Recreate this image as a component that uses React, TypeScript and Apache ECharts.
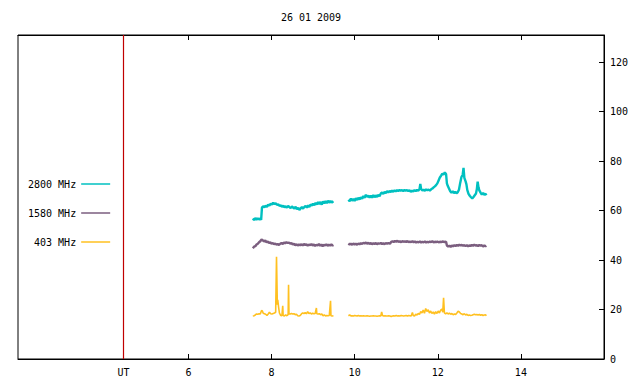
import React, { useEffect, useRef } from "react";
import * as echarts from "echarts";

const TITLE = "26 01 2009";
const X_MIN = 1.9;
const X_MAX = 16.0;
const Y_MIN = 0;
const Y_MAX = 131;
const UT_MARK = 4.44;
const X_TICKS = [6, 8, 10, 12, 14];
const Y_TICKS = [0, 20, 40, 60, 80, 100, 120];
const SERIES_NAMES = ["2800 MHz", "1580 MHz", "403 MHz"];
const SERIES_COLORS = ["#00c0c0", "#7b5e7f", "#ffc020"];
const SERIES_WIDTHS = [2.4, 2.4, 1.6];

const s2800a = [[7.55,56.8],[7.58,56.2],[7.61,57.0],[7.64,56.3],[7.67,56.9],[7.70,56.4],[7.73,56.8],[7.75,56.2],[7.77,61.2],[7.80,61.8],[7.83,61.3],[7.86,62.0],[7.89,61.5],[7.92,62.4],[7.95,62.0],[7.98,62.8],[8.01,62.4],[8.04,63.2],[8.07,62.6],[8.10,63.0],[8.13,62.3],[8.16,62.6],[8.19,61.9],[8.22,62.2],[8.25,61.5],[8.28,62.0],[8.31,61.3],[8.34,61.8],[8.37,61.2],[8.40,61.9],[8.43,61.4],[8.46,61.0],[8.49,61.7],[8.52,61.2],[8.55,60.9],[8.58,61.5],[8.61,60.6],[8.64,61.1],[8.67,60.3],[8.70,60.9],[8.73,61.4],[8.76,60.8],[8.79,61.5],[8.82,61.9],[8.85,61.2],[8.88,62.1],[8.91,61.5],[8.94,62.5],[8.97,62.0],[9.00,62.8],[9.03,62.2],[9.06,63.1],[9.09,62.5],[9.12,63.4],[9.15,62.6],[9.18,63.5],[9.21,62.4],[9.24,63.7],[9.27,62.9],[9.30,63.8],[9.33,63.0],[9.36,64.0],[9.39,63.2],[9.42,63.9],[9.45,63.3],[9.49,63.8]];
const s2800b = [[9.85,64.4],[9.88,63.8],[9.91,64.9],[9.94,64.0],[9.97,64.7],[10.00,63.9],[10.03,65.0],[10.06,64.3],[10.09,65.2],[10.12,64.5],[10.15,65.4],[10.18,64.8],[10.21,65.9],[10.24,65.2],[10.27,66.4],[10.30,65.6],[10.33,66.0],[10.36,65.3],[10.39,66.1],[10.42,65.2],[10.45,66.3],[10.48,65.4],[10.51,66.2],[10.54,65.5],[10.57,66.4],[10.60,65.8],[10.63,66.9],[10.66,67.3],[10.69,66.8],[10.72,67.5],[10.75,67.1],[10.78,67.8],[10.81,67.4],[10.84,67.9],[10.87,67.5],[10.90,68.1],[10.93,67.6],[10.96,68.2],[10.99,67.8],[11.02,68.3],[11.05,67.9],[11.08,68.4],[11.11,68.0],[11.14,68.3],[11.17,67.9],[11.20,68.4],[11.23,68.0],[11.26,68.3],[11.29,67.9],[11.32,68.2],[11.35,67.6],[11.38,68.1],[11.41,67.7],[11.44,68.3],[11.47,67.9],[11.50,68.4],[11.53,68.0],[11.56,68.6],[11.58,70.8],[11.60,68.7],[11.63,68.1],[11.66,68.5],[11.69,68.0],[11.72,68.6],[11.75,68.2],[11.78,68.5],[11.81,68.1],[11.84,68.6],[11.87,68.9],[11.90,69.4],[11.93,69.8],[11.96,70.3],[11.99,71.0],[12.02,72.2],[12.05,73.4],[12.08,74.1],[12.11,74.9],[12.14,74.6],[12.17,75.4],[12.20,74.8],[12.22,71.0],[12.24,70.0],[12.27,68.9],[12.30,67.8],[12.33,67.2],[12.36,67.8],[12.39,67.1],[12.42,67.6],[12.45,67.0],[12.48,67.4],[12.51,68.4],[12.54,71.2],[12.57,73.6],[12.60,74.5],[12.62,77.3],[12.64,73.2],[12.67,71.8],[12.69,70.6],[12.71,68.4],[12.74,66.8],[12.77,66.0],[12.80,65.4],[12.83,64.9],[12.86,65.5],[12.89,66.2],[12.92,66.9],[12.94,68.6],[12.96,71.7],[12.98,69.4],[13.00,68.2],[13.03,67.3],[13.06,66.5],[13.09,67.1],[13.12,66.4],[13.15,66.8],[13.17,66.2]];

const s1580a = [[7.55,44.8],[7.58,45.4],[7.61,45.6],[7.64,46.3],[7.67,46.6],[7.70,47.2],[7.73,47.6],[7.76,48.3],[7.79,48.0],[7.82,47.5],[7.85,47.9],[7.88,47.2],[7.91,47.5],[7.94,46.9],[7.97,47.2],[8.00,46.6],[8.03,46.9],[8.06,46.4],[8.09,46.7],[8.12,46.2],[8.15,46.5],[8.18,46.1],[8.21,46.6],[8.24,46.9],[8.27,46.5],[8.30,47.1],[8.33,46.8],[8.36,47.2],[8.39,46.9],[8.42,47.1],[8.45,46.6],[8.48,46.9],[8.51,46.3],[8.54,46.6],[8.57,46.0],[8.60,46.4],[8.63,45.9],[8.66,46.3],[8.69,46.0],[8.72,46.4],[8.75,45.9],[8.78,46.5],[8.81,46.1],[8.84,46.4],[8.87,45.8],[8.90,46.3],[8.93,46.0],[8.96,46.5],[8.99,45.9],[9.02,46.3],[9.05,45.7],[9.08,46.2],[9.11,45.9],[9.14,46.5],[9.17,45.8],[9.20,46.3],[9.23,45.6],[9.26,46.2],[9.29,45.9],[9.32,46.4],[9.35,45.8],[9.38,46.2],[9.41,45.9],[9.44,46.3],[9.47,45.9],[9.49,46.1]];
const s1580b = [[9.85,46.7],[9.88,46.3],[9.91,46.6],[9.94,46.2],[9.97,46.7],[10.00,46.3],[10.03,46.6],[10.06,46.2],[10.09,46.7],[10.12,46.4],[10.15,46.8],[10.18,46.5],[10.21,47.0],[10.24,46.7],[10.27,47.1],[10.30,46.6],[10.33,47.0],[10.36,46.5],[10.39,46.9],[10.42,46.4],[10.45,46.8],[10.48,46.5],[10.51,46.9],[10.54,46.4],[10.57,46.8],[10.60,46.6],[10.63,46.9],[10.66,46.5],[10.69,46.8],[10.72,46.4],[10.75,46.9],[10.78,46.6],[10.81,46.9],[10.85,46.6],[10.88,47.4],[10.91,47.6],[10.94,47.3],[10.97,47.7],[11.00,47.4],[11.03,47.8],[11.06,47.3],[11.09,47.6],[11.12,47.2],[11.15,47.7],[11.18,47.4],[11.21,47.6],[11.24,47.3],[11.27,47.7],[11.30,47.2],[11.33,47.5],[11.36,47.3],[11.39,47.6],[11.42,47.2],[11.45,47.5],[11.48,47.1],[11.51,47.4],[11.54,47.2],[11.57,47.5],[11.60,47.1],[11.63,47.4],[11.66,47.2],[11.69,47.5],[11.72,47.1],[11.75,47.4],[11.78,47.2],[11.81,47.5],[11.84,47.3],[11.87,47.6],[11.90,47.2],[11.93,47.4],[11.96,47.3],[11.99,47.5],[12.02,47.2],[12.05,47.4],[12.08,47.3],[12.11,47.5],[12.14,47.4],[12.17,47.3],[12.20,47.4],[12.22,45.9],[12.25,45.5],[12.28,45.8],[12.31,45.3],[12.34,45.9],[12.37,45.6],[12.40,46.0],[12.43,45.7],[12.46,46.1],[12.49,45.8],[12.52,46.2],[12.55,45.9],[12.58,46.1],[12.61,45.8],[12.64,46.0],[12.67,45.7],[12.70,46.0],[12.73,45.6],[12.76,45.9],[12.79,45.7],[12.82,46.1],[12.85,45.8],[12.88,46.2],[12.91,45.9],[12.94,46.0],[12.97,45.7],[13.00,46.1],[13.03,45.8],[13.06,46.0],[13.09,45.5],[13.12,45.9],[13.15,45.6],[13.17,45.8]];

const s403a = [[7.55,17.4],[7.58,17.5],[7.61,17.8],[7.64,18.2],[7.67,18.1],[7.70,18.3],[7.73,18.2],[7.76,19.6],[7.78,19.4],[7.80,18.5],[7.83,18.3],[7.86,18.1],[7.89,17.6],[7.92,18.2],[7.95,18.9],[7.98,18.3],[8.01,18.2],[8.04,18.4],[8.07,18.6],[8.10,18.9],[8.12,41.3],[8.14,22.0],[8.15,23.9],[8.17,21.0],[8.19,18.6],[8.22,17.6],[8.25,17.5],[8.27,21.5],[8.28,17.6],[8.31,17.4],[8.34,17.8],[8.37,17.5],[8.40,17.9],[8.41,30.0],[8.42,18.3],[8.45,18.2],[8.48,18.4],[8.51,18.2],[8.54,18.3],[8.57,17.9],[8.60,18.1],[8.63,17.5],[8.66,17.4],[8.69,17.6],[8.72,18.2],[8.75,18.6],[8.78,18.4],[8.81,18.7],[8.84,18.3],[8.87,19.1],[8.90,18.4],[8.93,18.6],[8.96,18.2],[8.99,18.5],[9.02,18.3],[9.05,18.4],[9.08,20.6],[9.09,18.3],[9.12,18.2],[9.15,18.3],[9.18,17.9],[9.21,18.2],[9.24,17.5],[9.27,17.8],[9.30,17.4],[9.33,17.6],[9.36,17.5],[9.39,17.6],[9.42,23.5],[9.43,17.5],[9.46,17.4],[9.49,17.5]];
const s403b = [[9.85,17.5],[9.88,17.8],[9.91,17.4],[9.94,17.5],[9.97,17.4],[10.00,17.6],[10.03,17.5],[10.06,17.4],[10.09,17.6],[10.12,17.4],[10.15,17.5],[10.18,17.4],[10.21,17.5],[10.24,17.4],[10.27,17.4],[10.30,17.5],[10.33,17.4],[10.36,17.3],[10.39,17.4],[10.42,17.4],[10.45,17.5],[10.48,17.4],[10.51,17.4],[10.54,17.3],[10.57,17.4],[10.60,17.5],[10.63,17.4],[10.65,19.0],[10.67,17.6],[10.70,17.4],[10.73,17.5],[10.76,17.4],[10.79,17.4],[10.82,17.5],[10.85,17.4],[10.88,17.2],[10.91,17.4],[10.94,17.5],[10.97,17.4],[11.00,17.6],[11.03,17.4],[11.06,17.5],[11.09,17.4],[11.12,17.6],[11.15,17.5],[11.18,17.4],[11.21,17.5],[11.24,17.6],[11.27,17.4],[11.30,17.6],[11.33,17.5],[11.36,17.4],[11.39,18.8],[11.41,17.6],[11.44,17.4],[11.47,18.1],[11.50,17.8],[11.53,18.4],[11.56,18.0],[11.59,19.2],[11.62,18.6],[11.65,19.8],[11.68,18.5],[11.71,20.4],[11.74,19.2],[11.77,19.9],[11.80,18.6],[11.83,19.4],[11.86,18.4],[11.89,19.0],[11.92,18.2],[11.95,19.1],[11.98,18.4],[12.01,19.4],[12.04,18.6],[12.07,19.8],[12.10,20.2],[12.12,18.9],[12.14,24.7],[12.16,18.6],[12.19,18.2],[12.22,18.6],[12.25,18.2],[12.28,18.5],[12.31,18.1],[12.34,18.4],[12.37,17.9],[12.40,18.2],[12.43,18.0],[12.46,18.6],[12.49,19.3],[12.52,19.0],[12.55,18.4],[12.58,18.2],[12.61,17.9],[12.64,18.3],[12.67,17.8],[12.70,18.1],[12.73,17.6],[12.76,17.8],[12.79,17.6],[12.82,17.7],[12.85,17.9],[12.88,18.1],[12.91,17.9],[12.94,18.0],[12.97,17.8],[13.00,18.0],[13.03,17.7],[13.06,17.9],[13.09,17.6],[13.12,17.8],[13.15,17.9],[13.17,17.5]];

const SERIES_DATA = [
  [s2800a, s2800b],
  [s1580a, s1580b],
  [s403a, s403b],
];

const FONT = "DejaVu Sans Mono";

export default function App() {
  const ref = useRef<HTMLDivElement>(null);
  useEffect(() => {
    document.body.style.margin = "0";
    if (!ref.current) return;
    const chart = echarts.init(ref.current, null, { renderer: "svg" });
    const series: any[] = SERIES_NAMES.map((name, i) => ({
      name,
      type: "line",
      xAxisIndex: 0,
      yAxisIndex: 0,
      showSymbol: false,
      symbol: "none",
      connectNulls: false,
      silent: true,
      lineStyle: { color: SERIES_COLORS[i], width: SERIES_WIDTHS[i] },
      itemStyle: { color: SERIES_COLORS[i] },
      data: [...SERIES_DATA[i][0], [9.67, "-"], ...SERIES_DATA[i][1]],
      z: 3 - i,
    }));
    series.push({
      type: "line",
      data: [],
      silent: true,
      markLine: {
        silent: true,
        symbol: "none",
        label: { show: false },
        lineStyle: { color: "#c00000", width: 1.2, type: "solid", opacity: 1 },
        data: [{ xAxis: UT_MARK }],
      },
    });
    const axisText = { color: "#000", fontFamily: FONT, fontSize: 10 };
    chart.setOption({
      animation: false,
      backgroundColor: "#fff",
      title: {
        text: TITLE,
        left: 311,
        top: 12,
        textAlign: "center",
        textStyle: { ...axisText, fontWeight: "normal" },
        padding: 0,
      },
      legend: {
        show: true,
        orient: "vertical",
        left: 28,
        top: 178,
        padding: 0,
        align: "right",
        icon: "rect",
        itemWidth: 29,
        itemHeight: 1.5,
        itemGap: 17,
        selectedMode: false,
        data: SERIES_NAMES,
        formatter: (n: string) => n.padStart(8, " "),
        textStyle: { ...axisText, lineHeight: 12 },
      },
      grid: {
        left: 18,
        right: 36,
        top: 35,
        bottom: 25,
        show: true,
        borderColor: "#000",
        borderWidth: 1,
        containLabel: false,
        outerBoundsMode: "none",
      },
      xAxis: [
        {
          type: "value",
          position: "bottom",
          min: X_MIN,
          max: X_MAX,
          splitLine: { show: false },
          axisLine: { show: true, lineStyle: { color: "#000" } },
          axisTick: { show: true, inside: true, length: 5, customValues: X_TICKS, lineStyle: { color: "#000" } },
          axisLabel: {
            ...axisText,
            margin: 8,
            customValues: [UT_MARK, ...X_TICKS],
            formatter: (v: number) => (Math.abs(v - UT_MARK) < 0.01 ? "UT" : String(v)),
          },
        },
        {
          type: "value",
          position: "top",
          min: X_MIN,
          max: X_MAX,
          splitLine: { show: false },
          axisLine: { show: true, lineStyle: { color: "#000" } },
          axisTick: { show: true, inside: true, length: 5, customValues: X_TICKS, lineStyle: { color: "#000" } },
          axisLabel: { show: false },
        },
      ],
      yAxis: [
        {
          type: "value",
          position: "right",
          min: Y_MIN,
          max: Y_MAX,
          splitLine: { show: false },
          axisLine: { show: true, lineStyle: { color: "#000" } },
          axisTick: { show: true, inside: true, length: 5, customValues: Y_TICKS, lineStyle: { color: "#000" } },
          axisLabel: { ...axisText, margin: 6, customValues: Y_TICKS },
        },
      ],
      series,
    });
    return () => chart.dispose();
  }, []);
  return <div ref={ref} style={{ width: 640, height: 384 }} />;
}
